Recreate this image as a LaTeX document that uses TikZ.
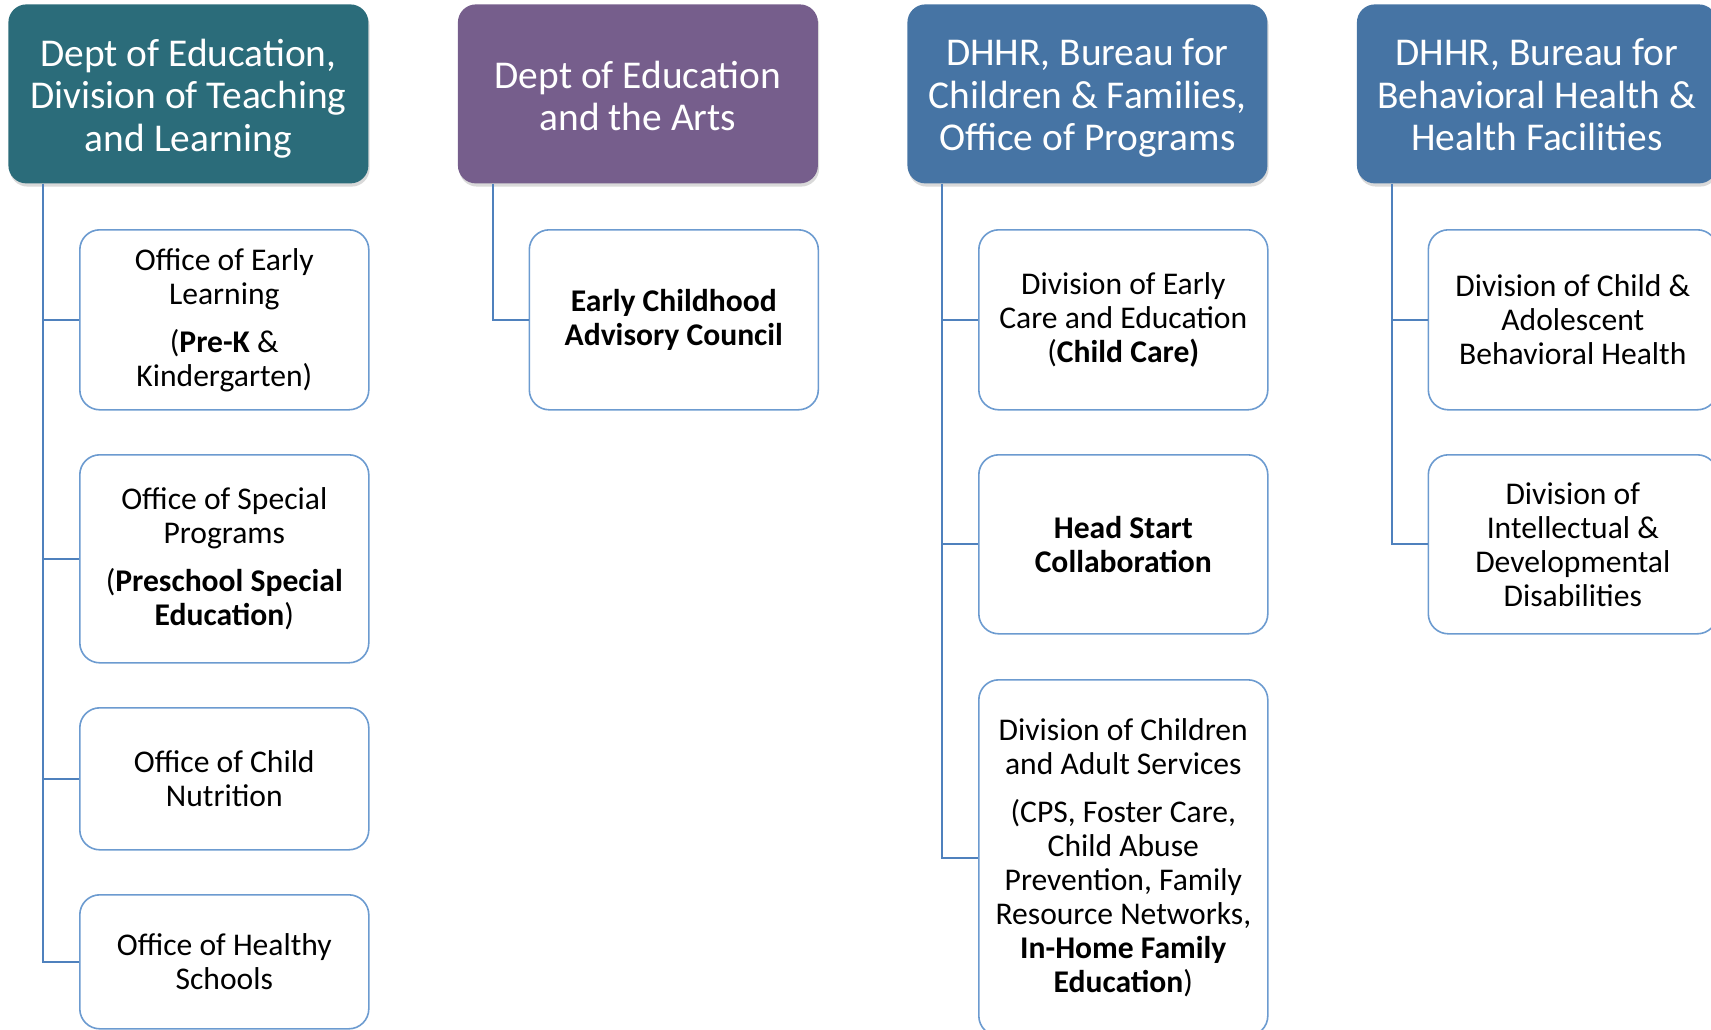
\documentclass[tikz,border=0pt]{standalone}
\usepackage{fontspec}
\setmainfont{Carlito}
\usetikzlibrary{shadows}
\definecolor{hdteal}{RGB}{43,108,122}
\definecolor{hdpurple}{RGB}{118,94,140}
\definecolor{hdblue}{RGB}{70,116,164}
\definecolor{lnblue}{RGB}{79,129,189}
\definecolor{bxblue}{RGB}{108,155,208}
\tikzset{
  head/.style={draw=none, rounded corners=9pt, minimum width=180pt, minimum height=89.5pt,
    anchor=north west, inner sep=0pt,
    drop shadow={shadow xshift=0.6pt, shadow yshift=-1.6pt, opacity=0.3}},
  headtext/.style={text=white, align=center, inner sep=0pt,
    font=\fontsize{19.7}{21.25}\selectfont},
  subbox/.style={draw=bxblue, line width=0.8pt, fill=white, rounded corners=10pt,
    minimum width=144.5pt, anchor=north west, align=center, inner sep=0pt,
    font=\fontsize{15.8}{17}\selectfont},
  link/.style={draw=lnblue, line width=1pt}
}
\begin{document}
\begin{tikzpicture}[x=0.5pt,y=-0.5pt]
\useasboundingbox (0,0) rectangle (1711,1029);
\clip (0,0) rectangle (1711,1029);
% headers
\node[head, fill=hdteal] (h1) at (8,4) {};
\node[head, fill=hdpurple] (h2) at (457.5,4) {};
\node[head, fill=hdblue] (h3) at (907,4) {};
\node[head, fill=hdblue] (h4) at (1356.5,4) {};
\node[headtext] (h1t) at ([yshift=-2.2pt]h1.center) {Dept of Education,\\Division of Teaching\\and Learning};
\node[headtext] (h2t) at ([yshift=-1pt]h2.center) {Dept of Education\\and the Arts};
\node[headtext] (h3t) at ([yshift=-2.2pt]h3.center) {DHHR, Bureau for\\Children \& Families,\\Office of Programs};
\node[headtext] (h4t) at ([yshift=-0.6pt]h4.center) {DHHR, Bureau for\\Behavioral Health \&\\Health Facilities};
% column 1
\node[subbox, minimum height=90pt] (c11) at (79,229) {Office of Early\\Learning\\[7pt](\textbf{Pre-K} \&\\Kindergarten)};
\node[subbox, minimum height=104pt] (c12) at (79,454) {Office of Special\\Programs\\[7pt](\textbf{Preschool Special}\\\textbf{Education})};
\node[subbox, minimum height=71pt] (c13) at (79,707) {Office of Child\\Nutrition};
\node[subbox, minimum height=67pt] (c14) at (79,894) {Office of Healthy\\Schools};
% column 2
\node[subbox, minimum height=90pt] (c21) at (528.5,229) {\textbf{Early Childhood}\\\textbf{Advisory Council}};
% column 3
\node[subbox, minimum height=90pt] (c31) at (978,229) {Division of Early\\Care and Education\\(\textbf{Child Care)}};
\node[subbox, minimum height=89.5pt] (c32) at (978,454) {\textbf{Head Start}\\\textbf{Collaboration}};
\node[subbox, minimum height=178pt] (c33) at (978,679) {Division of Children\\and Adult Services\\[7pt](CPS, Foster Care,\\Child Abuse\\Prevention, Family\\Resource Networks,\\\textbf{In-Home Family}\\\textbf{Education})};
% column 4
\node[subbox, minimum height=90pt] (c41) at (1427.5,229) {Division of Child \&\\Adolescent\\Behavioral Health};
\node[subbox, minimum height=89.5pt] (c42) at (1427.5,454) {Division of\\Intellectual \&\\Developmental\\Disabilities};
% connectors
\foreach \h/\c in {h1/c11,h1/c12,h1/c13,h1/c14,h2/c21,h3/c31,h3/c32,h3/c33,h4/c41,h4/c42}
  \draw[link] ([xshift=17.5pt]\h.south west) |- (\c.west);
\end{tikzpicture}
\end{document}
